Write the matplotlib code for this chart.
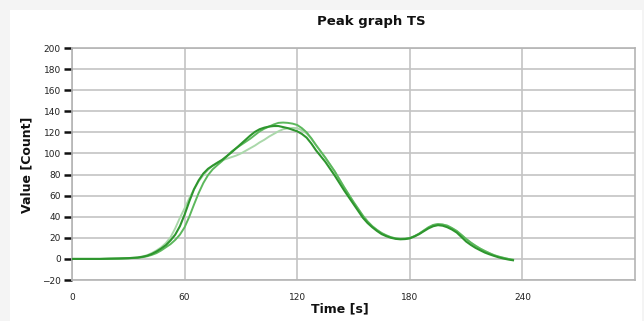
import matplotlib
matplotlib.use("Agg")
import matplotlib.pyplot as plt
from matplotlib.patches import Rectangle

# ---- data ----
time_s = [0, 5, 10, 15, 20, 25, 30,
          32.5, 35, 37.5, 40, 42.5, 45, 47.5, 50, 52.5, 55, 57.5, 60, 62.5, 65, 67.5, 70,
          72.5, 75, 77.5, 80, 82.5, 85, 87.5, 90, 92.5, 95, 97.5, 100, 102.5, 105, 107.5,
          110, 112.5, 115, 117.5, 120, 122.5, 125, 127.5, 130, 132.5, 135, 137.5, 140,
          142.5, 145, 147.5, 150, 152.5, 155, 157.5, 160, 162.5, 165, 167.5, 170, 172.5,
          175, 177.5, 180, 182.5, 185, 187.5, 190, 192.5, 195, 197.5, 200, 202.5, 205,
          207.5, 210, 212.5, 215, 217.5, 220, 222.5, 225, 227.5, 230, 232.5, 235]

series_dark = [0, 0, 0, 0, 0.2, 0.4, 0.7,
               1.0, 1.3, 2, 3, 4.7, 7, 9.8, 13, 17.5, 23, 31, 42, 54.5, 66, 74.5, 81,
               85.5, 88.5, 91.2, 94, 97.5, 101, 105, 109, 113, 117, 120.5, 123, 124.5, 125.5, 126,
               126, 125, 124, 122.5, 121, 118.5, 115, 109.5, 103, 97.5, 92, 85.5, 79,
               72, 65, 58.5, 52, 45.5, 39, 34, 30, 26.5, 23.5, 21.5, 20, 19,
               18.6, 18.8, 19.5, 21.3, 23.5, 26.3, 29, 31, 32, 31.5, 30, 27.8, 25,
               20.8, 16.5, 13.3, 10.5, 8.2, 6, 4.3, 2.8, 1.4, 0.3, -0.6, -1.3]

series_mid = [0, 0, 0, 0, 0.2, 0.3, 0.6,
              0.8, 1.0, 1.6, 2.5, 3.8, 5.5, 8, 11, 14, 18, 23, 30, 40, 51.5, 62.5, 72,
              79.5, 85, 89, 92.8, 97.3, 101.8, 105, 108, 111, 114, 117.5, 121, 123.5, 125.5, 127.5,
              129, 129.3, 129, 128.3, 127, 124, 120, 114.5, 108, 102, 96, 89.5, 83,
              75.5, 68, 61, 54, 47.5, 41, 35.5, 31, 27.5, 24.5, 22.3, 20.5, 19.5,
              19, 19.2, 19.8, 21.6, 24, 27, 30, 32.2, 33, 32.6, 31.5, 29.2, 26.5,
              22.8, 19, 15.5, 12.5, 9.8, 7.5, 5.4, 3.5, 2.1, 1, 0, -0.8]

series_light = [0, 0, 0, 0, 0.2, 0.4, 0.8,
                1.1, 1.5, 2.3, 3.5, 5.5, 8, 11, 15, 20.5, 29, 39, 48, 57.5, 66, 73.5, 79.5,
                84.5, 88.5, 91.5, 93.5, 95, 96.5, 98, 100, 102.5, 105, 107.5, 110.5, 113, 116, 118.5,
                121, 123, 123.8, 124.2, 124, 122, 119, 114, 108, 102, 96, 89.5, 83,
                75.5, 68, 61, 54, 47.5, 41, 35.5, 31, 27.5, 24.5, 22.3, 20.5, 19.5,
                19, 19.2, 19.8, 21.6, 24, 27, 30, 32.2, 33, 32.6, 31.5, 29.2, 26.5,
                22.8, 19, 15.5, 12.5, 9.8, 7.5, 5.4, 3.5, 2.1, 1, 0, -0.8]

x_ticks = [0, 60, 120, 180, 240]
y_ticks = [-20, 0, 20, 40, 60, 80, 100, 120, 140, 160, 180, 200]

W, H = 644, 321
fig = plt.figure(figsize=(W / 100, H / 100), dpi=100)
fig.patch.set_facecolor("#f4f4f4")
fig.patches.append(Rectangle((10 / W, 0), (642 - 10) / W, (H - 10) / H,
                             transform=fig.transFigure, facecolor="white",
                             edgecolor="none", zorder=-5))

ax = fig.add_axes([72 / W, 1 - 280 / H, (635 - 72) / W, (280 - 48) / H])
ax.set_zorder(2)
ax.set_facecolor("white")
ax.set_xlim(0, 300)
ax.set_ylim(-20, 200)
ax.set_xticks(x_ticks)
ax.set_yticks(y_ticks)
ax.grid(True, color="#c4c4c4", linewidth=1.2)
ax.set_axisbelow(True)
for s in ax.spines.values():
    s.set_color("#b4b4b4")
    s.set_linewidth(1.2)

ax.tick_params(axis="x", length=0, pad=9, labelsize=6.5, colors="#222222")
ax.tick_params(axis="y", length=6, width=1.8, color="#111111", pad=2,
               labelsize=6.5, labelcolor="#222222")

ax.plot(time_s, series_light, color="#aad8aa", linewidth=1.4, zorder=3)
ax.plot(time_s, series_mid, color="#5cb85c", linewidth=1.4, zorder=4)
ax.plot(time_s, series_dark, color="#2e962e", linewidth=1.5, zorder=5)

fig.text(371 / W, 1 - 22 / H, "Peak graph TS", ha="center", va="center",
         fontsize=9.5, fontweight="bold", color="#111111")
fig.text(340 / W, 1 - 309 / H, "Time [s]", ha="center", va="center",
         fontsize=9, fontweight="bold", color="#111111")
fig.text(27 / W, 1 - 165 / H, "Value [Count]", ha="center", va="center",
         rotation=90, fontsize=9, fontweight="bold", color="#111111")

fig.savefig("out.png", dpi=100, facecolor=fig.get_facecolor())
